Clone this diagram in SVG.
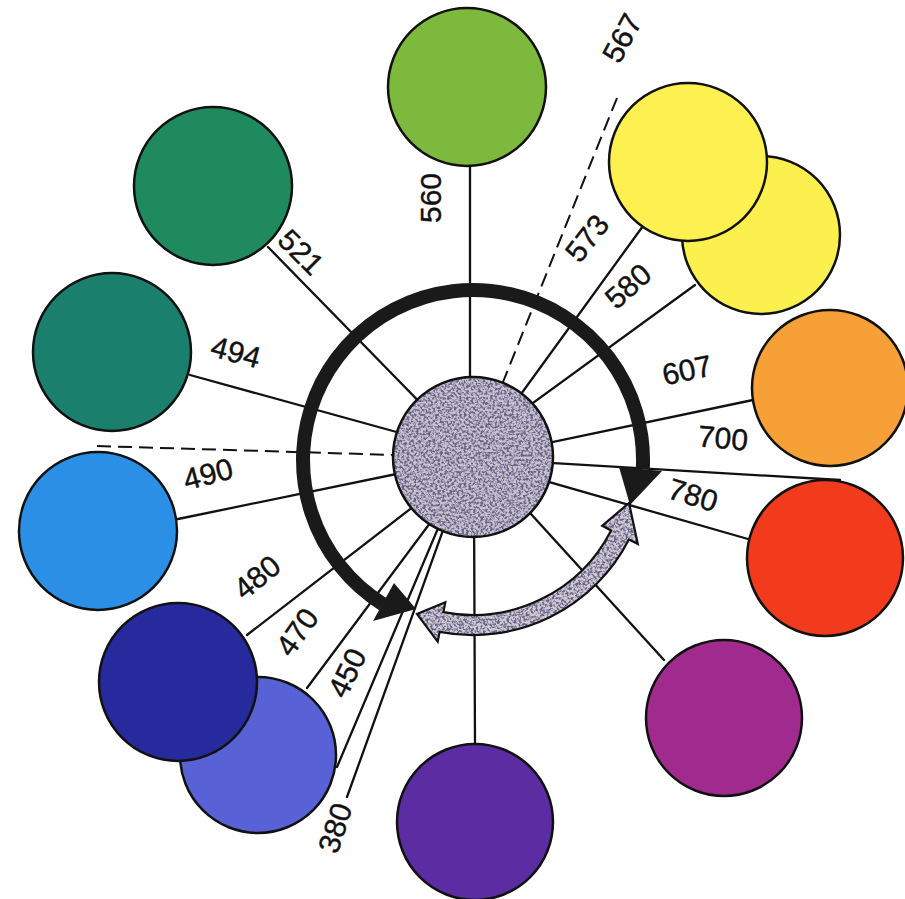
<svg xmlns="http://www.w3.org/2000/svg" width="905" height="899" viewBox="0 0 905 899">
  <style>
    .bg { fill: #ffffff; }
    .node { stroke: #111; stroke-width: 2.5; }
    .spoke { stroke: #111; stroke-width: 2.3; fill: none; stroke-linecap: round; }
    .dash { stroke: #111; stroke-width: 2; fill: none; stroke-dasharray: 14 7; }
    .lbl { font-family: "Liberation Sans", Arial, sans-serif; font-size: 30px; fill: #111; text-anchor: middle; stroke: #111; stroke-width: 0.4; }
  </style>
  <defs>
    <filter id="noise" x="0" y="0" width="100%" height="100%" filterUnits="objectBoundingBox">
      <feTurbulence type="fractalNoise" baseFrequency="0.42" numOctaves="2" seed="7"/>
      <feColorMatrix type="matrix" values="0 0 0 0 0.14  0 0 0 0 0.12  0 0 0 0 0.24  4.2 0 0 0 -1.75"/>
    </filter>
    <clipPath id="hubClip"><circle cx="473" cy="457" r="80"/></clipPath>
    <clipPath id="lightClip">
      <path d="M439.6,631.8 A175,175 0 0 0 628.9,539.5 L637.8,544 L629,503 L602.2,525.8 L611.1,530.4 A155,155 0 0 1 443.4,612.1 L445.3,602.3 L417,614 L437.7,641.6 Z"/>
    </clipPath>
  </defs>
  <rect class="bg" x="0" y="0" width="905" height="899"/>

  <g id="connectors">
    <line class="spoke" x1="470" y1="165" x2="470" y2="420"/>
    <line class="spoke" x1="268" y1="247" x2="440" y2="423"/>
    <line class="spoke" x1="190" y1="375" x2="440" y2="444"/>
    <line class="dash" x1="97" y1="446" x2="395" y2="455"/>
    <line class="spoke" x1="178" y1="519" x2="440" y2="465"/>
    <line class="spoke" x1="247" y1="635" x2="440" y2="486"/>
    <line class="spoke" x1="307" y1="688" x2="445" y2="503"/>
    <line class="spoke" x1="337" y1="767" x2="450" y2="500"/>
    <line class="spoke" x1="347" y1="797" x2="455" y2="497"/>
    <line class="spoke" x1="475" y1="745" x2="474" y2="500"/>
    <line class="spoke" x1="664" y1="660" x2="500" y2="480"/>
    <line class="spoke" x1="748" y1="539" x2="500" y2="468"/>
    <line class="spoke" x1="840" y1="480" x2="500" y2="460"/>
    <line class="spoke" x1="753" y1="400" x2="500" y2="453"/>
    <line class="spoke" x1="695" y1="285" x2="500" y2="427"/>
    <line class="spoke" x1="643" y1="226" x2="500" y2="423"/>
    <line class="dash" x1="617" y1="98" x2="503" y2="382"/>

    <g id="cycle-dark">
      <path d="M382.9,604.2 A170,170 0 1 1 642.8,468.9" fill="none" stroke="#1a1a1a" stroke-width="14"/>
      <polygon points="394,583 416,609 373,621" fill="#1a1a1a"/>
      <polygon points="619,467 662,471 630,505" fill="#1a1a1a"/>
    </g>
    <g id="cycle-light">
      <path d="M439.6,631.8 A175,175 0 0 0 628.9,539.5 L637.8,544 L629,503 L602.2,525.8 L611.1,530.4 A155,155 0 0 1 443.4,612.1 L445.3,602.3 L417,614 L437.7,641.6 Z" fill="#cfcbd4"/>
      <g clip-path="url(#lightClip)"><rect x="410" y="495" width="235" height="150" fill="#000" filter="url(#noise)"/></g>
      <path d="M439.6,631.8 A175,175 0 0 0 628.9,539.5 L637.8,544 L629,503 L602.2,525.8 L611.1,530.4 A155,155 0 0 1 443.4,612.1 L445.3,602.3 L417,614 L437.7,641.6 Z" fill="none" stroke="#111" stroke-width="2.2" stroke-linejoin="miter"/>
    </g>
  </g>

  <g id="hub">
    <circle cx="473" cy="457" r="80" fill="#c6c2d0"/>
    <g clip-path="url(#hubClip)"><rect x="393" y="377" width="160" height="160" fill="#000" filter="url(#noise)"/></g>
    <circle cx="473" cy="457" r="80" fill="none" stroke="#111" stroke-width="2.5"/>
  </g>

  <g id="n560">
    <circle class="node" cx="467" cy="87" r="79" fill="#7cb93c"/>
    <text class="lbl" transform="translate(430,198) rotate(-90)" dy="10.5">560</text>
  </g>
  <g id="n567">
    <text class="lbl" transform="translate(622,38) rotate(-62)" dy="10.5">567</text>
  </g>
  <g id="n580">
    <circle class="node" cx="761" cy="235" r="79" fill="#fbf04e"/>
    <text class="lbl" transform="translate(628,286) rotate(-42)" dy="10.5">580</text>
  </g>
  <g id="n573">
    <circle class="node" cx="688" cy="162" r="79" fill="#fcf150"/>
    <text class="lbl" transform="translate(587,238) rotate(-52)" dy="10.5">573</text>
  </g>
  <g id="n607">
    <circle class="node" cx="830" cy="388" r="78" fill="#f6a037"/>
    <text class="lbl" transform="translate(687,370) rotate(-12)" dy="10.5">607</text>
  </g>
  <g id="n700">
    <text class="lbl" transform="translate(723,438) rotate(5)" dy="10.5">700</text>
  </g>
  <g id="n780">
    <circle class="node" cx="825" cy="558" r="78" fill="#f23b1c"/>
    <text class="lbl" transform="translate(693,495) rotate(17)" dy="10.5">780</text>
  </g>
  <g id="n-magenta">
    <circle class="node" cx="724" cy="718" r="78" fill="#a02a8e"/>
  </g>
  <g id="n-violet">
    <circle class="node" cx="475" cy="822" r="78" fill="#5b2ca2"/>
  </g>
  <g id="n380">
    <text class="lbl" transform="translate(335,828) rotate(-72)" dy="10.5">380</text>
  </g>
  <g id="n450">
    <text class="lbl" transform="translate(347,673) rotate(-64)" dy="10.5">450</text>
  </g>
  <g id="n470">
    <circle class="node" cx="258" cy="755" r="78" fill="#5862d6"/>
    <text class="lbl" transform="translate(297,632) rotate(-55)" dy="10.5">470</text>
  </g>
  <g id="n480">
    <circle class="node" cx="178" cy="682" r="79" fill="#262a9c"/>
    <text class="lbl" transform="translate(257,577) rotate(-39)" dy="10.5">480</text>
  </g>
  <g id="n490">
    <circle class="node" cx="98" cy="531" r="79" fill="#2c8fe6"/>
    <text class="lbl" transform="translate(208,474) rotate(-15)" dy="10.5">490</text>
  </g>
  <g id="n494">
    <circle class="node" cx="112" cy="352" r="79" fill="#1b7f6e"/>
    <text class="lbl" transform="translate(236,352) rotate(15)" dy="10.5">494</text>
  </g>
  <g id="n521">
    <circle class="node" cx="213" cy="186" r="79" fill="#1f8a5e"/>
    <text class="lbl" transform="translate(301,252) rotate(45)" dy="10.5">521</text>
  </g>
</svg>
